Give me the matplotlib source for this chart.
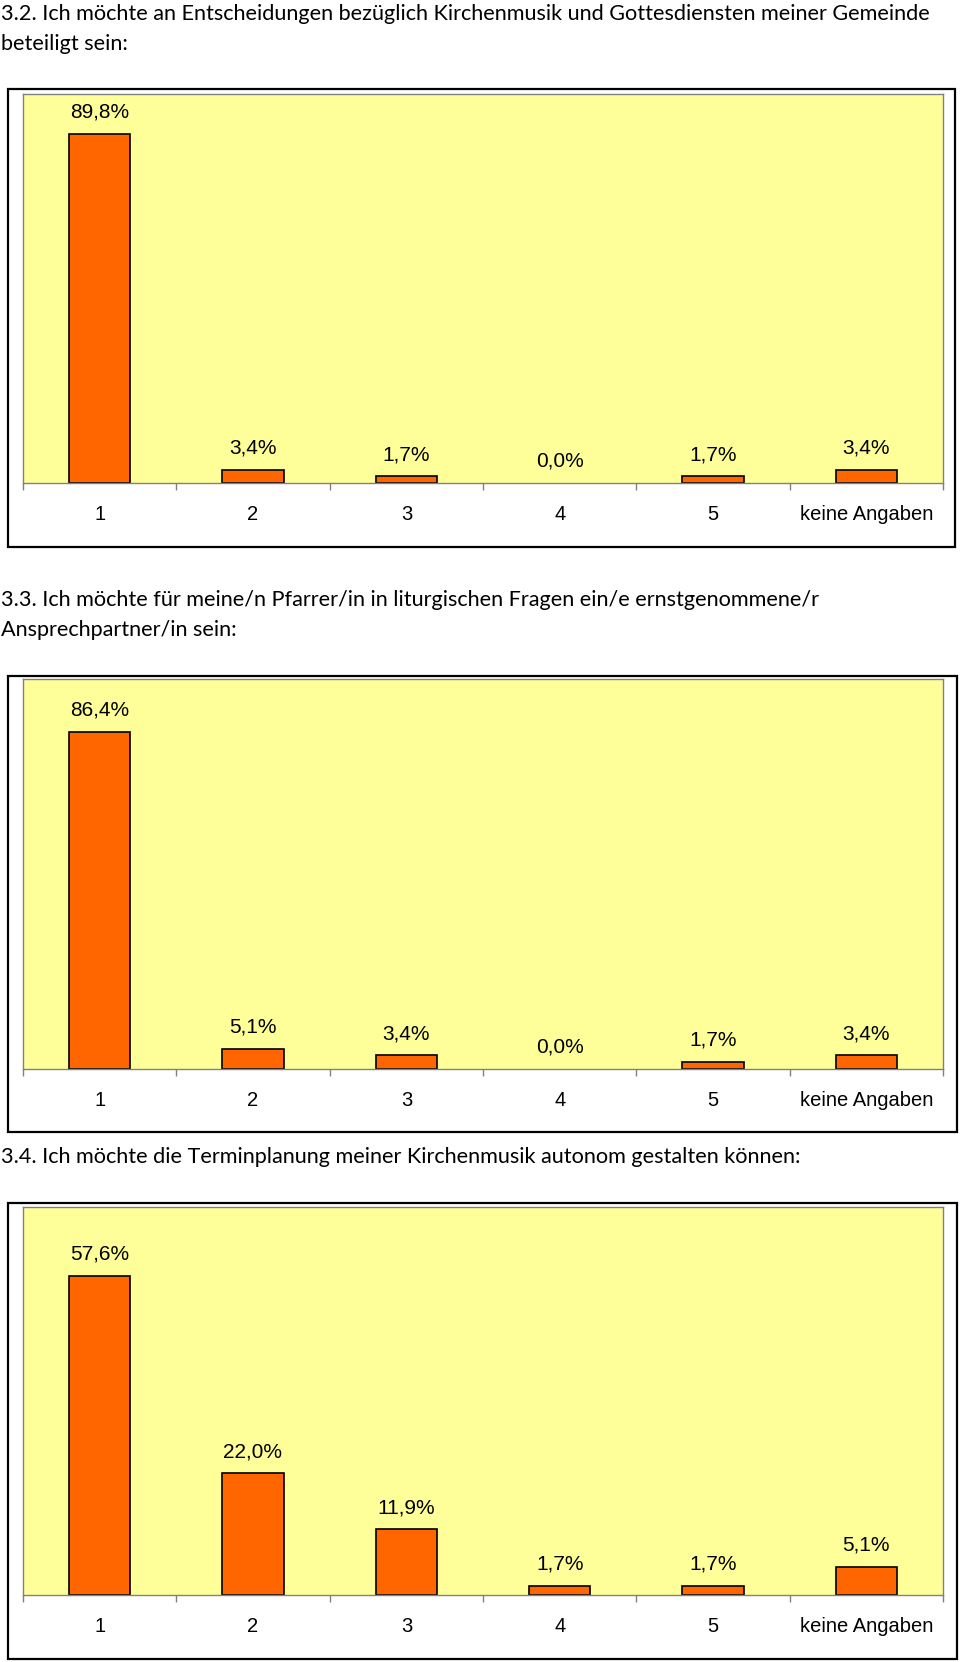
import matplotlib
matplotlib.use("Agg")
import matplotlib.pyplot as plt
from matplotlib.patches import Rectangle

categories = ["1", "2", "3", "4", "5", "keine Angaben"]
values_32 = [89.8, 3.4, 1.7, 0.0, 1.7, 3.4]
values_33 = [86.4, 5.1, 3.4, 0.0, 1.7, 3.4]
values_34 = [57.6, 22.0, 11.9, 1.7, 1.7, 5.1]

title_32 = ["3.2. Ich möchte an Entscheidungen bezüglich Kirchenmusik und Gottesdiensten meiner Gemeinde",
            "beteiligt sein:"]
title_33 = ["3.3. Ich möchte für meine/n Pfarrer/in in liturgischen Fragen ein/e ernstgenommene/r",
            "Ansprechpartner/in sein:"]
title_34 = ["3.4. Ich möchte die Terminplanung meiner Kirchenmusik autonom gestalten können:"]

W, H = 960, 1662
YELLOW = "#FFFF99"
ORANGE = "#FF6600"
GRAY = "#808080"

fig = plt.figure(figsize=(W / 100, H / 100), dpi=100)


def px_box(x0, y0, x1, y1):
    # pixel box (top-left origin) -> figure fraction [left, bottom, width, height]
    return [x0 / W, 1 - y1 / H, (x1 - x0) / W, (y1 - y0) / H]


def pct(v):
    return f"{v:.1f}%".replace(".", ",")


panels = [
    (values_32, 100, title_32, [20, 50], (7.5, 89, 955, 547), (23, 94, 943, 483)),
    (values_33, 100, title_33, [606, 636], (7.5, 676, 957, 1132), (23, 679, 943, 1068.5)),
    (values_34, 70, title_34, [1163], (7.5, 1203, 957, 1659), (23, 1207, 943, 1595)),
]

for vals, ymax, title, baselines, frame, plot in panels:
    for line, yb in zip(title, baselines):
        fig.text(1 / W, 1 - yb / H, line, fontsize=15.6, family="Lato", va="baseline", ha="left")

    fx0, fy0, fx1, fy1 = frame
    fig.add_artist(Rectangle((fx0 / W, 1 - fy1 / H), (fx1 - fx0) / W, (fy1 - fy0) / H,
                             transform=fig.transFigure, fill=False, edgecolor="black", lw=1.6))

    ax = fig.add_axes(px_box(*plot))
    ax.set_facecolor(YELLOW)
    x = range(len(categories))
    bars = ax.bar(x, vals, width=0.4, color=ORANGE, edgecolor="black", lw=1.2)
    for b, v in zip(bars, vals):
        if v == 0:
            b.set_linewidth(0)
    ax.set_xlim(-0.5, len(categories) - 0.5)
    ax.set_ylim(0, ymax)
    ax.set_yticks([])
    ax.set_xticks(list(x))
    ax.set_xticklabels(categories, fontsize=14.5, family="Liberation Sans")
    ax.set_xticks([i - 0.5 for i in range(len(categories) + 1)], minor=True)
    ax.tick_params(axis="x", which="major", length=0, pad=16)
    ax.tick_params(axis="x", which="minor", length=5, width=1, color=GRAY, direction="out")
    for s in ax.spines.values():
        s.set_color(GRAY)
        s.set_linewidth(1)

    for xi, v in zip(x, vals):
        ax.annotate(pct(v), (xi, v), xytext=(0, 15.5), textcoords="offset points",
                    ha="center", va="center", fontsize=15, family="Liberation Sans")

fig.savefig("out.png", dpi=100)
